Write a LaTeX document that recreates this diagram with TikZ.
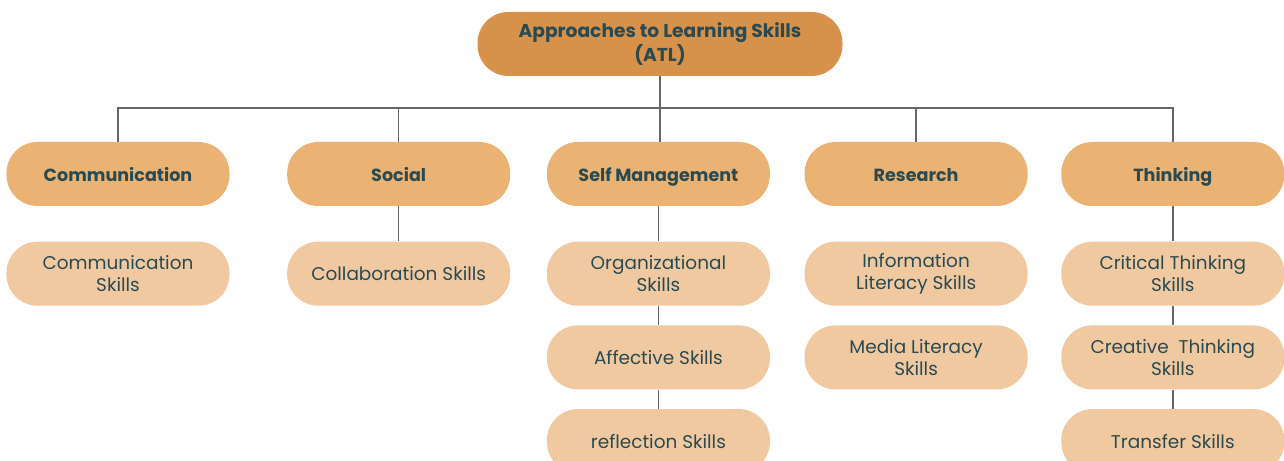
\documentclass[tikz,border=0pt]{standalone}
\usepackage{fontspec}
\setmainfont{Poppins}
\usetikzlibrary{positioning}

\definecolor{atldark}{HTML}{D6914B}
\definecolor{atlmid}{HTML}{EBB373}
\definecolor{atllight}{HTML}{F0C9A0}
\definecolor{atltext}{HTML}{2A4A52}
\definecolor{atlline}{HTML}{666666}

\begin{document}
\begin{tikzpicture}[
    box/.style={rounded corners=0.62cm, minimum width=4.46cm, minimum height=1.28cm,
      align=center, text=atltext, inner sep=0pt},
    root/.style={box, fill=atldark, minimum width=7.3cm, font=\bfseries\fontsize{10.6}{13.4}\selectfont},
    cat/.style={box, fill=atlmid, text height=0.37cm, text depth=0.07cm,
      font=\bfseries\fontsize{10}{12.5}\selectfont},
    skill/.style={box, fill=atllight, font=\fontsize{10.5}{12.5}\selectfont},
    link/.style={draw=atlline, line width=0.8pt},
  ]
  \useasboundingbox (0,0) rectangle (25.68,-9.22);

  \node[root] (atl) at (13.2,-0.88) {Approaches to Learning Skills\\(ATL)};

  \node[cat] (comm) at (2.36,-3.48) {Communication};
  \node[cat, right=1.14cm of comm] (social) {Social};
  \node[cat, right=0.72cm of social] (self) {Self Management};
  \node[cat, right=0.68cm of self] (research) {Research};
  \node[cat, right=0.66cm of research] (thinking) {Thinking};

  \node[skill, below=0.7cm of comm] (commskills) {Communication\\Skills};

  \node[skill, below=0.7cm of social] (collab) {Collaboration Skills};

  \node[skill, below=0.7cm of self] (organ) {Organizational\\Skills};
  \node[skill, below=0.38cm of organ] (affect) {Affective Skills};
  \node[skill, below=0.38cm of affect] (reflect) {reflection Skills};

  \node[skill, below=0.7cm of research] (info) {Information\\Literacy Skills};
  \node[skill, below=0.38cm of info] (media) {Media Literacy\\Skills};

  \node[skill, below=0.7cm of thinking] (critical) {Critical Thinking\\Skills};
  \node[skill, below=0.38cm of critical] (creative) {Creative\ \ Thinking\\Skills};
  \node[skill, below=0.38cm of creative] (transfer) {Transfer Skills};

  \coordinate (bar) at (0,-2.16);

  \draw[link] (atl.south) -- (atl.south |- self.north);
  \draw[link] (comm.north) |- (bar -| thinking.north) -- (thinking.north);
  \draw[link] (social.north) -- (social.north |- bar);
  \draw[link] (research.north) -- (research.north |- bar);

  \draw[link] (social) -- (collab);
  \draw[link] (self) -- (organ);
  \draw[link] (organ) -- (affect);
  \draw[link] (affect) -- (reflect);
  \draw[link] (thinking) -- (critical);
  \draw[link] (critical) -- (creative);
  \draw[link] (creative) -- (transfer);
\end{tikzpicture}
\end{document}
